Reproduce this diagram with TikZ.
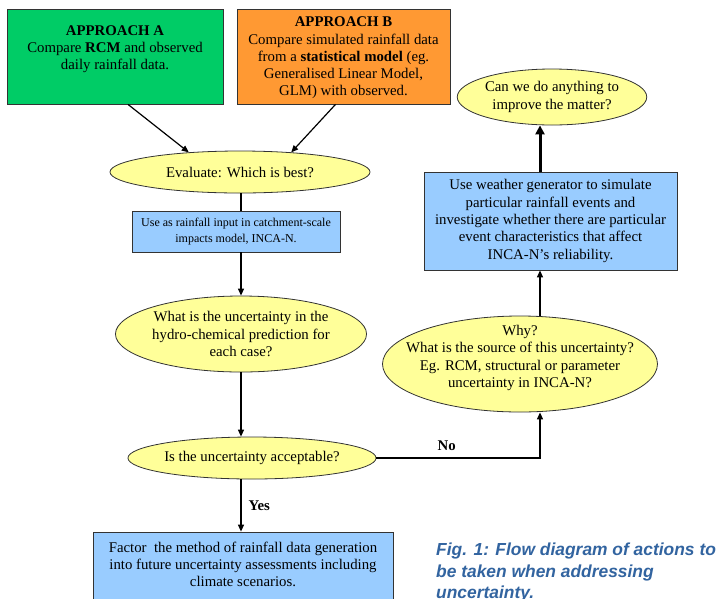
\documentclass[tikz,border=0pt]{standalone}
\usepackage{fontspec}
\setmainfont{Liberation Serif}
\newfontfamily\capfont{Liberation Sans}
\usetikzlibrary{shapes.geometric,arrows.meta,calc}
\definecolor{boxgreen}{RGB}{0,204,102}
\definecolor{boxorange}{RGB}{255,153,51}
\definecolor{ellyellow}{RGB}{255,255,153}
\definecolor{boxblue}{RGB}{153,204,255}
\definecolor{capblue}{RGB}{50,100,160}
\newcommand\mainsz{\fontsize{14.8}{17.3}\selectfont}
\newcommand\smallsz{\fontsize{12}{16}\selectfont}
\begin{document}
\begin{tikzpicture}[x=1pt,y=-1pt,
  box/.style={draw=black!80, line width=0.8pt, rectangle, inner sep=0pt},
  ell/.style={draw=black!80, line width=0.8pt, ellipse, fill=ellyellow, inner sep=0pt, align=center, font=\mainsz},
  txt/.style={align=center, inner sep=0pt, font=\mainsz},
  conn/.style={line width=1.2pt},
  arr/.style={line width=1.2pt, -{Triangle[length=7pt,width=6pt]}},
  arrthick/.style={line width=3pt, -{Triangle[length=9pt,width=9pt]}},
  lbl/.style={font=\mainsz\bfseries, inner sep=0pt}]
\clip (0,0) rectangle (717,598);
\fill[white] (0,0) rectangle (717,598);

% boxes
\node[box, fill=boxgreen, minimum width=216pt, minimum height=95pt] (A) at (115,56.5) {};
\node[txt] (Atxt) at (115,49) {\textbf{APPROACH A}\\Compare \textbf{RCM} and observed\\daily rainfall data.};
\node[box, fill=boxorange, minimum width=213pt, minimum height=95pt] (B) at (343.5,56.5) {};
\node[txt] (Btxt) at (343.5,58) {\textbf{APPROACH B}\\Compare simulated rainfall data\\from a \textbf{statistical model} (eg.\\Generalised Linear Model,\\GLM) with observed.};

\node[ell, minimum width=260pt, minimum height=42pt] (eval) at (240,172) {Evaluate: Which is best?};
\node[box, fill=boxblue, minimum width=208pt, minimum height=41pt, align=center, font=\smallsz] (use) at (236,231.5) {Use as rainfall input in catchment-scale\\impacts model, INCA-N.};
\node[ell, minimum width=242pt, minimum height=76pt] (unc) at (241,334) {What is the uncertainty in the\\hydro-chemical prediction for\\each case?};
\node[ell, minimum width=240pt, minimum height=42pt] (acc) at (252,458) {Is the uncertainty acceptable?};
\node[box, fill=boxblue, minimum width=300pt, minimum height=90pt] (factor) at (243,577) {};
\node[txt] (factortxt) at (243,564.5) {Factor\ \ the method of rainfall data generation\\into future uncertainty assessments including\\climate scenarios.};

\node[ell, minimum width=275pt, minimum height=96pt] (why) at (520,364) {};
\node[txt] (whytxt) at (520,358) {Why?\\What is the source of this uncertainty?\\Eg. RCM, structural or parameter\\uncertainty in INCA-N?};
\node[box, fill=boxblue, minimum width=253pt, minimum height=98pt, align=center, font=\mainsz] (wg) at (550.5,221) {Use weather generator to simulate\\particular rainfall events and\\investigate whether there are particular\\event characteristics that affect\\INCA-N's reliability.};
\node[ell, minimum width=170pt, minimum height=56pt] (can) at (552,97) {Can we do anything to\\improve the matter?};

\node[anchor=north west, inner sep=0pt, align=left, text=capblue, font={\capfont\fontsize{17.4}{21.5}\selectfont\bfseries\itshape}] (cap) at (436,543) {Fig. 1: Flow diagram of actions to\\be taken when addressing\\uncertainty.};

% connectors
\coordinate (colL) at (241,0);
\coordinate (colR) at (540,0);
\draw[arr] ($(A.south)+(13,0)$) -- (eval.159);
\draw[arr] ($(B.south)+(-8,0)$) -- (eval.21);
\draw[conn] (eval.south -| colL) -- (use.north -| colL);
\draw[arr] (use.south -| colL) -- (unc.north -| colL);
\draw[arr] (unc.south -| colL) -- (acc.north -| colL);
\draw[arr] (acc.south -| colL) -- node[lbl, anchor=west, xshift=7pt] {Yes} (factor.north -| colL);
\draw[arr] (acc.east) -- node[lbl, pos=0.43, above=7pt] {No} (acc.east -| colR) -- (why.south -| colR);
\draw[arr] (why.north -| colR) -- (wg.south -| colR);
\draw[arrthick] (wg.north -| colR) -- (can.south -| colR);
\end{tikzpicture}
\end{document}
